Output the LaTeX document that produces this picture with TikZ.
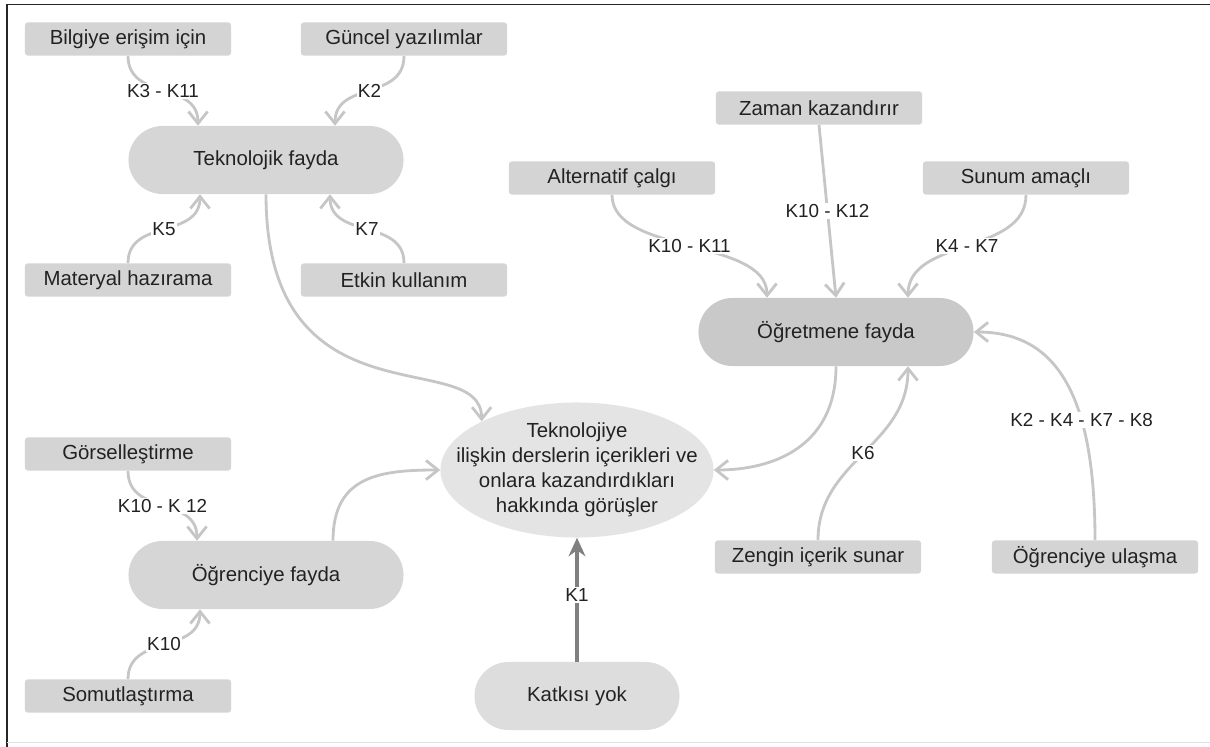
\documentclass[tikz,border=0pt]{standalone}
\usepackage{fontspec}
\setmainfont{Liberation Sans}
\usepackage{xcolor}
\usepackage{tikz}
\usetikzlibrary{arrows.meta,positioning,shapes.geometric,calc}

\definecolor{leafgray}{HTML}{D4D4D4}
\definecolor{benefitgray}{HTML}{D6D6D6}
\definecolor{teachergray}{HTML}{C9C9C9}
\definecolor{coregray}{HTML}{E4E4E4}
\definecolor{linkgray}{HTML}{C6C6C6}
\definecolor{darklink}{HTML}{808080}
\definecolor{textgray}{HTML}{222222}

\begin{document}
\begin{tikzpicture}[
    x=0.025cm, y=-0.025cm,
    font=\fontsize{14.5}{17.7}\selectfont,
    leaf/.style={fill=leafgray, rounded corners=2pt, minimum width=5.15cm, minimum height=0.83cm, inner sep=0pt, text=textgray},
    benefit/.style={fill=benefitgray, rounded corners=0.85cm, minimum width=6.875cm, minimum height=1.7cm, inner sep=0pt, text=textgray},
    teacher/.style={benefit, fill=teachergray},
    nobenefit/.style={benefit, fill=leafgray!80!white, minimum width=5.125cm},
    core/.style={ellipse, fill=coregray, minimum width=6.825cm, minimum height=3.375cm, inner sep=0pt},
    coretext/.style={align=center, text=textgray, inner sep=0pt},
    link/.style={-{Straight Barb[length=3mm,width=4.8mm]}, line width=2pt, draw=linkgray},
    strong/.style={-{Stealth[length=4.6mm,width=4.2mm]}, line width=2.6pt, draw=darklink},
    code/.style={fill=white, inner sep=1pt, font=\fontsize{13.4}{15}\selectfont, text=textgray}
]
\useasboundingbox (0,0) rectangle (1210,747);
\draw[line width=1.4pt, draw=black!85] (7,747) -- (7,4.5) -- (1210,4.5);
\draw[black!12] (7,742) -- (1210,742);

\node[leaf] (bilgi) at (128,39) {Bilgiye erişim için};
\node[leaf] (guncel) at (404,39) {Güncel yazılımlar};
\node[benefit] (tek) at (266,160) {Teknolojik fayda};
\node[leaf] (mater) at (128,280) {Materyal hazırama};
\node[leaf] (etkin) at (404,280) {Etkin kullanım};

\node[leaf] (zaman) at (819,108) {Zaman kazandırır};
\node[leaf] (alt) at (612,178) {Alternatif çalgı};
\node[leaf] (sunum) at (1026,178) {Sunum amaçlı};
\node[teacher] (ogretmen) at (836,332) {Öğretmene fayda};
\node[leaf] (zengin) at (818,557) {Zengin içerik sunar};
\node[leaf] (ulasma) at (1095,557) {Öğrenciye ulaşma};

\node[leaf] (gorsel) at (128,454) {Görselleştirme};
\node[benefit] (ogrenci) at (266,575) {Öğrenciye fayda};
\node[leaf] (somut) at (128,696) {Somutlaştırma};

\node[core] (core) at (577,470) {};
\node[coretext] (corelbl) at (core.center) {Teknolojiye\\ilişkin derslerin içerikleri ve\\onlara kazandırdıkları\\hakkında görüşler};
\node[nobenefit] (katki) at (577,696) {Katkısı yok};

\draw[link] (bilgi.south) .. controls +(0,45) and +(0,-45) .. ($(tek.north)+(-68,0)$) node[code,pos=.5] {K3 - K11};
\draw[link] (guncel.south) .. controls +(0,45) and +(0,-45) .. ($(tek.north)+(69,0)$) node[code,pos=.5] {K2};
\draw[link] (mater.north) .. controls +(0,-45) and +(0,45) .. ($(tek.south)+(-66,0)$) node[code,pos=.5] {K5};
\draw[link] (etkin.north) .. controls +(0,-45) and +(0,45) .. ($(tek.south)+(64,0)$) node[code,pos=.5] {K7};
\draw[link] (tek.south) .. controls +(0,236) and +(0,-77) .. (core.153);

\draw[link] (gorsel.south) .. controls +(0,45) and +(0,-45) .. ($(ogrenci.north)+(-69,0)$) node[code,pos=.5] {K10 - K 12};
\draw[link] (somut.north) .. controls +(0,-45) and +(0,45) .. ($(ogrenci.south)+(-66,0)$) node[code,pos=.5] {K10};
\draw[link] ($(ogrenci.north)+(67,0)$) .. controls +(0,-65) and +(-60,0) .. (core.west);

\draw[strong] (katki.north) -- (core.south) node[code,pos=.54] {K1};

\draw[link] (zaman.south) -- (ogretmen.north) node[code,pos=.5] {K10 - K12};
\draw[link] (alt.south) .. controls +(0,60) and +(0,-60) .. ($(ogretmen.north)+(-69,0)$) node[code,pos=.5] {K10 - K11};
\draw[link] (sunum.south) .. controls +(0,60) and +(0,-60) .. ($(ogretmen.north)+(72,0)$) node[code,pos=.5] {K4 - K7};
\draw[link] (ogretmen.south) .. controls +(0,80) and +(60,0) .. (core.east);
\draw[link] (zengin.north) .. controls +(0,-80) and +(0,80) .. ($(ogretmen.south)+(72,0)$) node[code,pos=.5] {K6};
\draw[link] (ulasma.north) .. controls +(0,-150) and +(80,0) .. (ogretmen.east) node[code,pos=.33] {K2 - K4 - K7 - K8};
\end{tikzpicture}
\end{document}
